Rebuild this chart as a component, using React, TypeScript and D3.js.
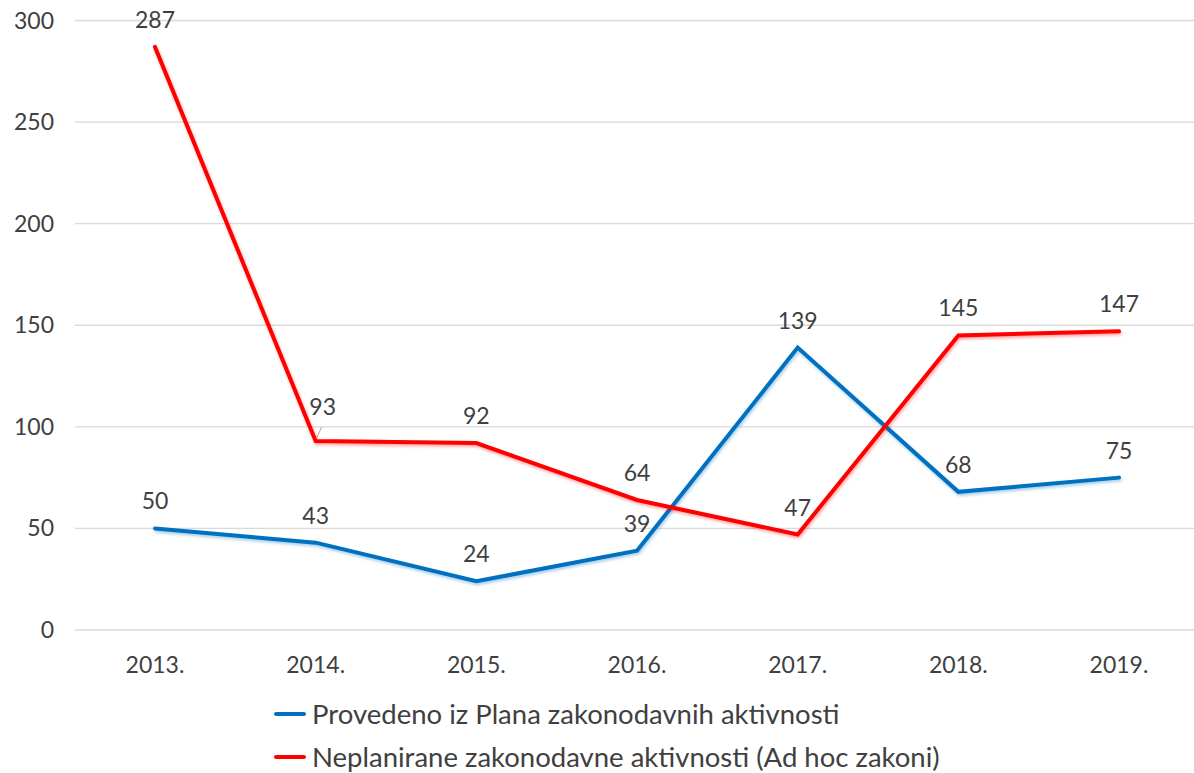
import React from "react";
import * as d3 from "d3";

const years = ["2013.", "2014.", "2015.", "2016.", "2017.", "2018.", "2019."];
const provedeno = [50, 43, 24, 39, 139, 68, 75];
const neplanirane = [287, 93, 92, 64, 47, 145, 147];
const yTicks = [0, 50, 100, 150, 200, 250, 300];
const seriesNames = [
  "Provedeno iz Plana zakonodavnih aktivnosti",
  "Neplanirane zakonodavne aktivnosti (Ad hoc zakoni)",
];
const colors = ["#0070C0", "#FF0000"];

const W = 1194;
const H = 773;
const FONT = "Lato, 'Open Sans', sans-serif";
const TEXT = "#404040";

export default function App() {
  const x = d3.scalePoint<string>().domain(years).range([155, 1119]);
  const y = d3.scaleLinear().domain([0, 300]).range([630, 20.5]);
  const line = d3
    .line<number>()
    .x((_, i) => x(years[i]) as number)
    .y((d) => y(d));
  const series = [provedeno, neplanirane];

  return (
    <svg
      width={W}
      height={H}
      style={{ position: "absolute", left: 0, top: 0, background: "#fff" }}
      fontFamily={FONT}
    >
      <defs>
        <filter id="glow" x="-5%" y="-5%" width="110%" height="110%">
          <feGaussianBlur in="SourceGraphic" stdDeviation="1.6" result="b" />
          <feColorMatrix in="b" type="matrix" values="1 0 0 0 0  0 1 0 0 0  0 0 1 0 0  0 0 0 0.35 0" result="s" />
          <feOffset in="s" dx="1" dy="1.5" result="o" />
          <feMerge>
            <feMergeNode in="o" />
            <feMergeNode in="SourceGraphic" />
          </feMerge>
        </filter>
      </defs>
      {yTicks.map((t) => (
        <g key={t}>
          <line x1={75} x2={1200} y1={y(t)} y2={y(t)} stroke="#D9D9D9" strokeWidth={1.3} />
          <text x={54} y={y(t)} dy="0.35em" textAnchor="end" fontSize={23} fill={TEXT}>
            {t}
          </text>
        </g>
      ))}
      {years.map((yr) => (
        <text key={yr} x={x(yr)} y={665} dy="0.35em" textAnchor="middle" fontSize={23} fill={TEXT}>
          {yr}
        </text>
      ))}
      {series.map((s, si) => (
        <path
          key={si}
          d={line(s) || ""}
          fill="none"
          stroke={colors[si]}
          strokeWidth={4}
          strokeLinejoin="miter"
          strokeLinecap="round"
          filter="url(#glow)"
        />
      ))}
      {/* leader line for 2014 red label */}
      <line
        x1={(x(years[1]) as number) + 1}
        y1={y(neplanirane[1]) - 3}
        x2={(x(years[1]) as number) + 6}
        y2={y(neplanirane[1]) - 14}
        stroke="#A6A6A6"
        strokeWidth={1}
      />
      {series.map((s, si) =>
        s.map((v, i) => {
          const dx = si === 1 && i === 1 ? 7 : 0;
          const dyOff = si === 1 && i === 1 ? -34 : -27;
          return (
            <text
              key={`${si}-${i}`}
              x={(x(years[i]) as number) + dx}
              y={y(v) + dyOff}
              dy="0.35em"
              textAnchor="middle"
              fontSize={23}
              fill={TEXT}
            >
              {v}
            </text>
          );
        })
      )}
      {seriesNames.map((n, i) => (
        <g key={n} transform={`translate(0, ${714 + i * 43})`}>
          <line x1={276} x2={304} y1={0} y2={0} stroke={colors[i]} strokeWidth={4} strokeLinecap="round" />
          <text x={312} y={0} dy="0.35em" fontSize={27.5} fill={TEXT}>
            {n}
          </text>
        </g>
      ))}
    </svg>
  );
}
